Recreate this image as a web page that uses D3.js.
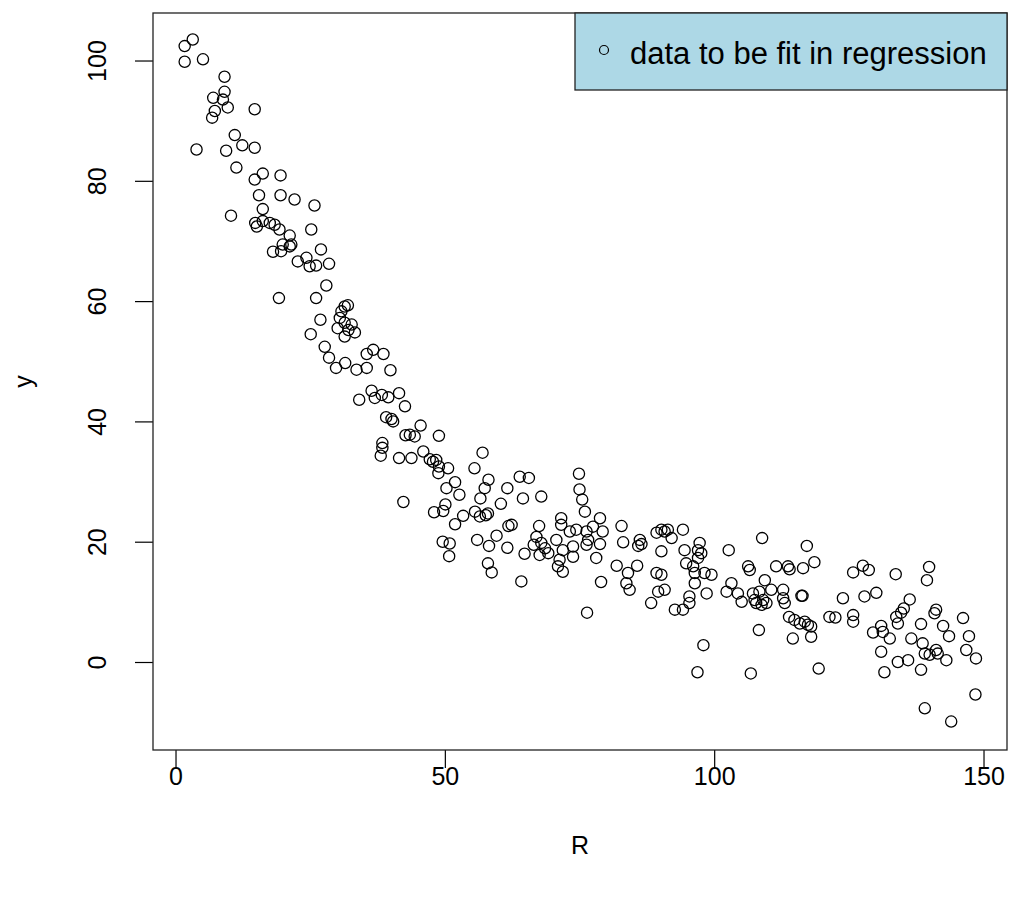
<!DOCTYPE html>
<html>
<head>
<meta charset="utf-8">
<script src="https://cdn.jsdelivr.net/npm/d3@7"></script>
<style>
  html, body { margin: 0; padding: 0; background: #fff; }
  svg { display: block; }
  text { font-family: "Liberation Sans", Arial, sans-serif; fill: #000; }
</style>
</head>
<body>
<svg id="chart" width="1010" height="901"></svg>
<script>
// ---- data ----
const xTicks = [0, 50, 100, 150];
const yTicks = [0, 20, 40, 60, 80, 100];
const xTitle = "R";
const yTitle = "y";
const legendLabel = "data to be fit in regression";

const Rvals = [
  1.7, 3.2, 1.7, 5.1, 9.1, 9.1, 7.0, 8.8, 9.7, 7.3, 6.8, 14.7, 11.0, 12.4, 14.7, 3.9, 9.4, 11.3, 16.2, 14.7,
  19.5, 15.5, 19.5, 22.1, 25.8, 16.2, 10.3, 14.8, 15.1, 16.2, 17.5, 18.4, 19.3, 21.2, 25.2, 19.9, 21.2, 21.5, 18.1, 19.6,
  27.0, 22.7, 24.3, 24.9, 26.1, 28.5, 28.0, 19.2, 26.1, 26.9, 25.1, 27.7, 28.5, 29.8, 31.5, 31.4, 32.0, 30.8, 30.5, 31.4,
  32.7, 30.1, 32.1, 33.3, 31.4, 33.6, 35.5, 35.5, 36.7, 38.6, 39.9, 36.4, 37.0, 38.3, 39.5, 41.5, 42.6, 34.1, 39.1, 40.1,
  40.4, 43.5, 44.4, 42.7, 45.5, 48.9, 38.4, 38.4, 38.1, 41.5, 43.8, 46.0, 47.2, 47.8, 48.4, 48.9, 48.8, 50.6, 57.0, 55.5,
  58.1, 57.4, 56.6, 50.3, 51.9, 52.7, 42.3, 48.0, 49.7, 50.1, 51.9, 53.4, 55.6, 56.5, 57.6, 58.0, 60.4, 61.6, 64.5, 67.9,
  63.9, 65.6, 49.6, 50.9, 50.8, 56.0, 58.2, 58.0, 58.7, 61.6, 59.6, 61.8, 62.4, 64.2, 64.8, 67.0, 67.5, 66.5, 67.9, 68.6,
  67.6, 69.2, 71.6, 71.6, 70.7, 71.9, 71.0, 71.9, 71.3, 74.9, 75.0, 75.5, 76.0, 77.5, 76.3, 78.8, 79.3, 76.6, 78.8, 76.3,
  78.1, 73.2, 74.4, 73.8, 73.8, 79.0, 76.4, 82.8, 83.1, 86.2, 86.5, 85.9, 81.9, 85.7, 84.0, 83.7, 84.3, 89.3, 90.2, 90.8,
  91.4, 92.1, 94.2, 90.2, 89.3, 90.2, 89.6, 90.8, 88.3, 92.7, 94.2, 94.5, 94.8, 96.1, 97.0, 97.3, 97.0, 97.6, 96.4, 98.2,
  99.5, 96.4, 95.4, 95.4, 98.6, 102.3, 102.7, 108.9, 103.2, 104.4, 106.3, 106.6, 107.2, 108.4, 109.4, 110.6, 111.5, 105.1, 107.8, 108.8,
  109.7, 117.2, 118.6, 113.7, 114.0, 116.5, 112.8, 109.1, 113.1, 107.5, 112.8, 116.2, 116.4, 113.9, 114.9, 115.9, 116.8, 117.4, 118.0, 114.6,
  118.0, 108.3, 119.4, 123.9, 125.8, 127.6, 128.7, 127.9, 130.1, 121.4, 122.5, 125.8, 125.8, 133.7, 139.9, 139.5, 136.3, 135.2, 134.7, 133.8,
  134.1, 131.0, 131.3, 129.5, 132.6, 131.0, 131.6, 134.1, 136.0, 136.6, 138.4, 138.7, 138.4, 139.1, 140.0, 141.2, 141.2, 140.9, 142.5, 143.6,
  141.5, 143.1, 146.2, 147.3, 146.8, 148.6, 139.1, 144.0, 148.5, 96.9, 98.0, 106.8
];
const yvals = [
  102.4, 103.5, 99.8, 100.2, 97.3, 94.8, 93.8, 93.5, 92.2, 91.6, 90.5, 91.9, 87.6, 85.9, 85.5, 85.2, 85.0, 82.2, 81.2, 80.2,
  80.9, 77.6, 77.6, 76.9, 75.9, 75.3, 74.2, 73.0, 72.4, 73.3, 73.0, 72.7, 71.9, 70.9, 71.9, 69.4, 69.1, 69.4, 68.2, 68.3,
  68.6, 66.6, 67.2, 65.8, 65.9, 66.2, 62.6, 60.5, 60.5, 56.9, 54.5, 52.4, 50.6, 48.9, 49.7, 59.1, 59.3, 58.3, 57.2, 56.4,
  56.1, 55.5, 55.2, 54.8, 54.1, 48.6, 48.9, 51.2, 51.9, 51.2, 48.5, 45.1, 43.9, 44.4, 44.0, 44.7, 42.5, 43.6, 40.7, 40.4,
  40.0, 37.8, 37.5, 37.7, 39.3, 37.6, 36.4, 35.6, 34.3, 33.9, 33.9, 35.0, 33.7, 33.3, 33.6, 32.5, 31.4, 32.2, 34.8, 32.2,
  30.3, 28.9, 27.2, 28.9, 29.9, 27.8, 26.6, 24.9, 25.1, 26.2, 22.9, 24.3, 25.0, 24.2, 24.4, 24.7, 26.3, 28.9, 27.2, 27.5,
  30.8, 30.6, 20.0, 19.7, 17.6, 20.3, 19.3, 16.4, 14.9, 19.0, 21.0, 22.6, 22.8, 13.4, 18.0, 20.8, 22.6, 19.5, 19.8, 18.9,
  17.8, 18.1, 23.9, 22.8, 20.3, 18.6, 15.9, 15.0, 17.0, 31.3, 28.7, 27.0, 25.0, 22.5, 21.7, 23.9, 21.7, 20.3, 19.6, 19.5,
  17.3, 21.7, 22.0, 19.2, 17.5, 13.3, 8.2, 22.6, 19.9, 20.3, 19.6, 19.3, 16.0, 16.0, 14.8, 13.1, 12.0, 21.5, 22.0, 21.7,
  22.0, 20.6, 22.0, 18.4, 14.8, 14.5, 11.7, 12.0, 9.8, 8.7, 8.7, 18.6, 16.4, 15.9, 17.3, 19.8, 18.6, 18.1, 14.8, 14.8,
  14.5, 13.1, 10.9, 9.8, 11.4, 11.7, 18.6, 20.6, 13.1, 11.4, 15.9, 15.3, 11.4, 11.7, 13.6, 12.0, 15.9, 10.0, 9.8, 9.5,
  9.8, 19.3, 16.6, 15.9, 15.4, 15.6, 12.0, 10.3, 9.8, 10.3, 10.6, 11.0, 11.0, 7.5, 7.0, 6.4, 6.7, 6.2, 5.9, 3.9,
  4.2, 5.3, -1.1, 10.6, 14.9, 16.0, 15.3, 10.9, 11.5, 7.5, 7.4, 7.8, 6.7, 14.6, 15.8, 13.6, 10.4, 8.9, 8.2, 7.5,
  6.4, 6.0, 5.0, 4.9, 3.9, 1.7, -1.7, 0.0, 0.3, 3.9, 6.3, 3.1, -1.3, 1.4, 1.2, 2.0, 8.7, 8.1, 6.0, 4.3,
  1.4, 0.3, 7.3, 4.3, 2.0, 0.6, -7.7, -9.9, -5.4, -1.7, 2.8, -1.9
];

// ---- layout ----
const svg = d3.select("#chart");
const box = { left: 153, right: 1007, top: 13, bottom: 750 };

const x = d3.scaleLinear().domain([-4.18, 154.36]).range([box.left, box.right]);
const y = d3.scaleLinear().domain([-14.63, 107.9]).range([box.bottom, box.top]);

const points = Rvals.map((r, i) => ({ r, v: yvals[i] }));

// points
svg.append("g")
  .selectAll("circle")
  .data(points)
  .join("circle")
  .attr("cx", d => x(d.r))
  .attr("cy", d => y(d.v))
  .attr("r", 5.6)
  .attr("fill", "none")
  .attr("stroke", "#000")
  .attr("stroke-width", 1.3);

// x axis
const xAxis = svg.append("g")
  .attr("transform", `translate(0,${box.bottom})`)
  .call(d3.axisBottom(x).tickValues(xTicks).tickSize(18).tickFormat(d3.format("d")));
xAxis.select(".domain").remove();
xAxis.selectAll(".tick line").attr("stroke", "#000").attr("stroke-width", 1.2);
xAxis.selectAll(".tick text")
  .attr("font-family", "Liberation Sans, Arial, sans-serif")
  .attr("font-size", 25).attr("fill", "#000")
  .attr("y", 35).attr("dy", 0);

// y axis
const yAxis = svg.append("g")
  .attr("transform", `translate(${box.left},0)`)
  .call(d3.axisLeft(y).tickValues(yTicks).tickSize(18).tickFormat(d3.format("d")));
yAxis.select(".domain").remove();
yAxis.selectAll(".tick line").attr("stroke", "#000").attr("stroke-width", 1.2);
yAxis.selectAll(".tick text")
  .attr("font-family", "Liberation Sans, Arial, sans-serif")
  .attr("font-size", 25).attr("fill", "#000")
  .attr("transform", "rotate(-90)")
  .attr("x", 0).attr("y", -47).attr("dy", 0)
  .attr("text-anchor", "middle");

// plot box
svg.append("rect")
  .attr("x", box.left).attr("y", box.top)
  .attr("width", box.right - box.left).attr("height", box.bottom - box.top)
  .attr("fill", "none").attr("stroke", "#222").attr("stroke-width", 1.3);

// axis titles
svg.append("text")
  .attr("x", (box.left + box.right) / 2).attr("y", 854)
  .attr("text-anchor", "middle").attr("font-size", 25)
  .text(xTitle);
svg.append("text")
  .attr("transform", `translate(32,${(box.top + box.bottom) / 2}) rotate(-90)`)
  .attr("text-anchor", "middle").attr("font-size", 25)
  .text(yTitle);

// legend
const lg = svg.append("g");
lg.append("rect")
  .attr("x", 575).attr("y", box.top)
  .attr("width", box.right - 575).attr("height", 90 - box.top)
  .attr("fill", "#ADD8E6").attr("stroke", "#222").attr("stroke-width", 1.3);
lg.append("circle")
  .attr("cx", 604).attr("cy", 50).attr("r", 4.5)
  .attr("fill", "none").attr("stroke", "#000").attr("stroke-width", 1.2);
lg.append("text")
  .attr("x", 630).attr("y", 64)
  .attr("font-size", 31)
  .text(legendLabel);
</script>
</body>
</html>
